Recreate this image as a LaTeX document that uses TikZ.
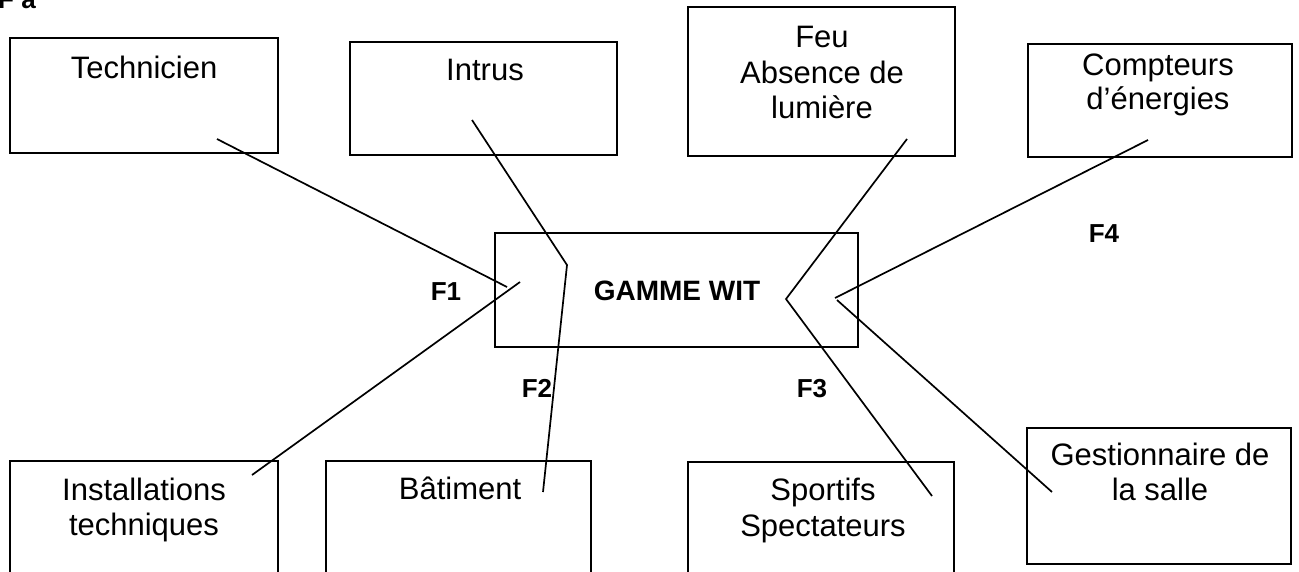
\documentclass[tikz,border=0pt]{standalone}
\usepackage{fontspec}
\setmainfont{Liberation Sans}
\tikzset{
  box/.style={draw, line width=1.8pt, rectangle, inner sep=0pt, outer sep=0pt, anchor=north west},
  txt/.style={font=\fontsize{31}{36}\selectfont, inner sep=0pt, anchor=base},
  btxt/.style={font=\fontsize{26}{30}\selectfont\bfseries, inner sep=0pt, anchor=base},
  conn/.style={line width=1.7pt, line join=miter}
}
\begin{document}
\begin{tikzpicture}[x=1pt,y=-1pt]
\useasboundingbox (0,0) rectangle (1299,571);
\clip (0,0) rectangle (1299,571);
% boxes
\node[box, minimum width=268pt, minimum height=115pt] (tech) at (10,38) {};
\node[box, minimum width=267pt, minimum height=113pt] (intrus) at (350,42) {};
\node[box, minimum width=267pt, minimum height=149pt] (feu) at (688,7) {};
\node[box, minimum width=264pt, minimum height=113pt] (compt) at (1028,44) {};
\node[box, minimum width=363pt, minimum height=114pt] (gamme) at (495,233) {};
\node[box, minimum width=268pt, minimum height=140pt] (inst) at (10,461) {};
\node[box, minimum width=265pt, minimum height=140pt] (bat) at (326,461) {};
\node[box, minimum width=266pt, minimum height=140pt] (sport) at (688,462) {};
\node[box, minimum width=264pt, minimum height=136pt] (gest) at (1027,428) {};
% texts
\node[btxt, anchor=base west] (fa) at (-2,8) {F a};
\node[txt] (ttech) at (144,78) {Technicien};
\node[txt] (tintrus) at (485,80) {Intrus};
\node[txt] (tfeu1) at (822,47) {Feu};
\node[txt] (tfeu2) at (822,83) {Absence de};
\node[txt] (tfeu3) at (822,118) {lumière};
\node[txt] (tcompt1) at (1158,75) {Compteurs};
\node[txt] (tcompt2) at (1158,109) {d’énergies};
\node[btxt, font=\fontsize{28}{32}\selectfont\bfseries] (tgamme) at (677,300) {GAMME WIT};
\node[txt] (tinst1) at (144,500) {Installations};
\node[txt] (tinst2) at (144,535) {techniques};
\node[txt] (tbat) at (460,499) {Bâtiment};
\node[txt] (tsport1) at (823,500) {Sportifs};
\node[txt] (tsport2) at (823,536) {Spectateurs};
\node[txt] (tgest1) at (1160,465) {Gestionnaire de};
\node[txt] (tgest2) at (1160,500) {la salle};
\node[btxt] (f1) at (446,300) {F1};
\node[btxt] (f2) at (537,397) {F2};
\node[btxt] (f3) at (812,397) {F3};
\node[btxt] (f4) at (1104,242) {F4};
% connector end points
\coordinate (c-tech) at (217,139);
\coordinate (c-tech-in) at (507,287);
\coordinate (c-inst-in) at (520,282);
\coordinate (c-inst) at (252,475);
\coordinate (c-intrus) at (472,120);
\coordinate (c-k2) at (567,265);
\coordinate (c-bat) at (543,492);
\coordinate (c-feu) at (907,139);
\coordinate (c-k3) at (786,299);
\coordinate (c-sport) at (932,496);
\coordinate (c-compt) at (1148,140);
\coordinate (c-k4) at (835,298);
\coordinate (c-k5) at (837,300);
\coordinate (c-gest) at (1052,492);
% connectors
\draw[conn] (c-tech) -- (c-tech-in);
\draw[conn] (c-inst-in) -- (c-inst);
\draw[conn] (c-intrus) -- (c-k2) -- (c-bat);
\draw[conn] (c-feu) -- (c-k3) -- (c-sport);
\draw[conn] (c-compt) -- (c-k4);
\draw[conn] (c-k5) -- (c-gest);
\end{tikzpicture}
\end{document}
